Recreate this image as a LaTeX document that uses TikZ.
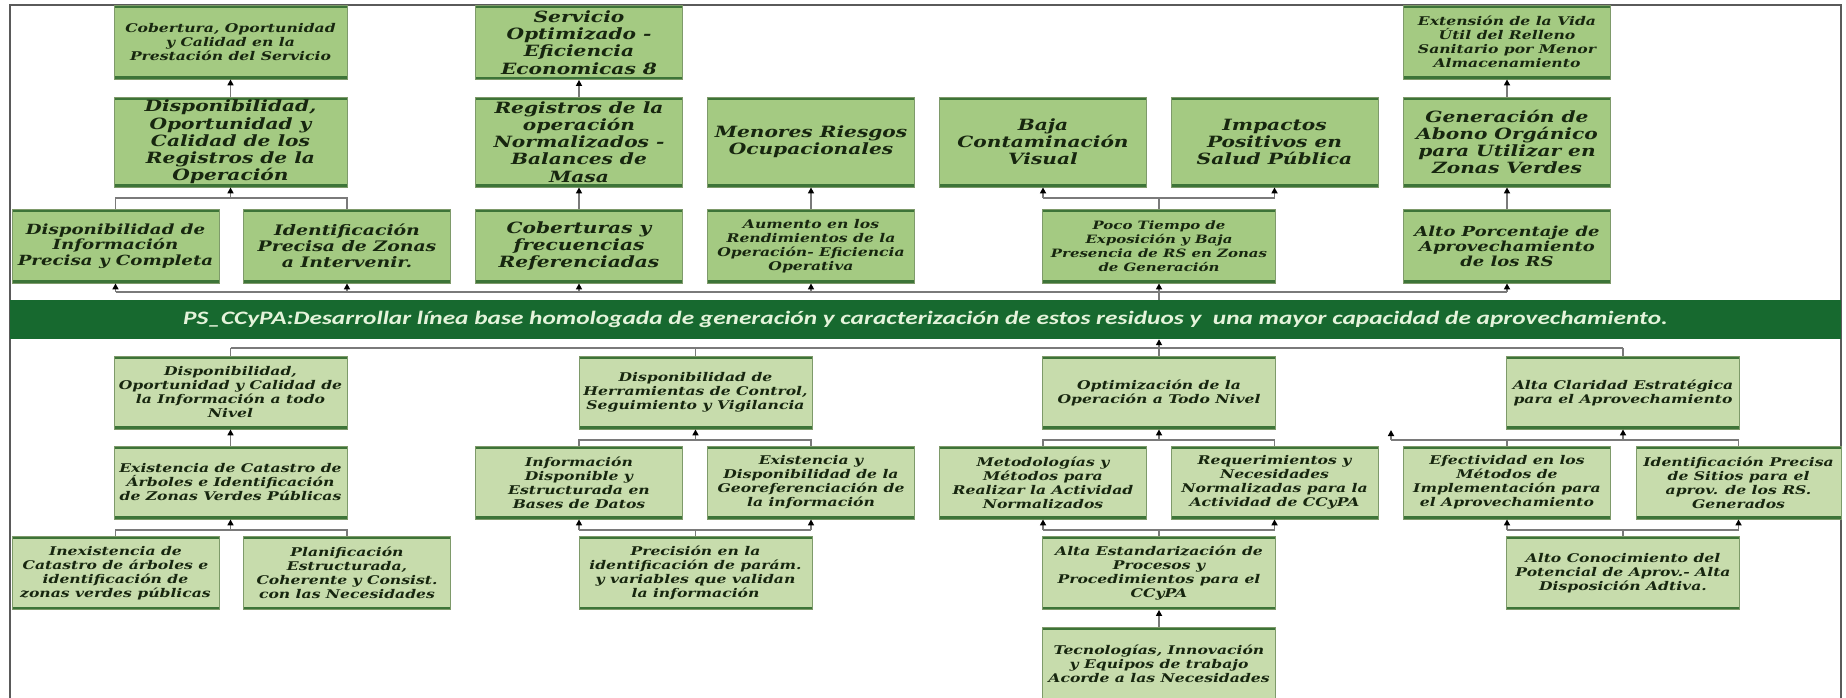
\documentclass[tikz,border=0pt]{standalone}
\usepackage{fontspec}
\usepackage{graphicx}
\usetikzlibrary{arrows.meta}
\newfontfamily\bxf{DejaVu Serif}[FakeStretch=1.3]
\newfontfamily\barf{Carlito}[FakeStretch=1.12]
\definecolor{topfill}{HTML}{A4CA82}
\definecolor{lowfill}{HTML}{C7DCAC}
\definecolor{edgegreen}{HTML}{3D7438}
\definecolor{sidegreen}{HTML}{7E9A6A}
\definecolor{ink}{HTML}{17260F}
\definecolor{bargreen}{HTML}{17692F}
\definecolor{bartext}{HTML}{E4F3DA}
\definecolor{wiregray}{HTML}{7A7A7A}
\definecolor{framegray}{HTML}{5A5A5A}
\tikzset{
 box/.style={draw=sidegreen, line width=0.8pt, text=ink, align=center, inner xsep=2pt, inner ysep=0.5pt,
   path picture={\draw[edgegreen,line width=5pt] (path picture bounding box.north west)--(path picture bounding box.north east);
                 \draw[edgegreen,line width=6pt] (path picture bounding box.south west)--(path picture bounding box.south east);}},
 topbox/.style={box, fill=topfill},
 lowbox/.style={box, fill=lowfill},
 nw/.style={minimum width=207pt}, ww/.style={minimum width=233pt},
 hT1/.style={minimum height=74pt}, hT2/.style={minimum height=90pt}, hL/.style={minimum height=73pt},
 bigtxt/.style={font=\bxf\bfseries\itshape\fontsize{15.5}{17.2}\selectfont},
 smalltxt/.style={font=\bxf\bfseries\itshape\fontsize{12}{14}\selectfont},
 midtxt/.style={font=\bxf\bfseries\itshape\fontsize{13}{15}\selectfont},
 wire/.style={draw=wiregray, line width=1.5pt},
 arr/.style={wire, -{Triangle[length=6pt,width=6pt,black]}},
}
\begin{document}
\begin{tikzpicture}[x=1pt,y=-1pt]
\useasboundingbox (0,0) rectangle (1846,697);
\fill[white] (0,0) rectangle (1846,697);
\draw[framegray, line width=1.5pt] (10,5) rectangle (1841,705);

% ---------- top section ----------
\node[topbox,ww,hT1,smalltxt] (B1) at (230.5,42) {Cobertura, Oportunidad\\ y Calidad en la\\ Prestación del Servicio};
\node[topbox,nw,hT1,bigtxt] (D1) at (579,42.5) {Servicio\\ Optimizado -\\ Eficiencia\\ Economicas 8};
\node[topbox,nw,hT1,smalltxt] (J1) at (1507,42) {Extensión de la Vida\\ Útil del Relleno\\ Sanitario por Menor\\ Almacenamiento};

\node[topbox,ww,hT2,bigtxt] (B2) at (230.5,142) {Disponibilidad,\\ Oportunidad y\\ Calidad de los\\ Registros de la\\ Operación};
\node[topbox,nw,hT2,bigtxt] (D2) at (579,142) {Registros de la\\ operación\\ Normalizados -\\ Balances de\\ Masa};
\node[topbox,nw,hT2,bigtxt] (F2) at (811,142) {Menores Riesgos\\ Ocupacionales};
\node[topbox,nw,hT2,bigtxt] (G2) at (1043,142) {Baja\\ Contaminación\\ Visual};
\node[topbox,nw,hT2,bigtxt] (I2) at (1274.5,142) {Impactos\\ Positivos en\\ Salud Pública};
\node[topbox,nw,hT2,bigtxt] (J2) at (1507,142) {Generación de\\ Abono Orgánico\\ para Utilizar en\\ Zonas Verdes};

\node[topbox,nw,hT1,font=\bxf\bfseries\itshape\fontsize{14}{15.5}\selectfont] (A3) at (115.5,246) {Disponibilidad de\\ Información\\ Precisa y Completa};
\node[topbox,nw,hT1,font=\bxf\bfseries\itshape\fontsize{14.5}{16}\selectfont] (C3) at (347,246) {Identificación\\ Precisa de Zonas\\ a Intervenir.};
\node[topbox,nw,hT1,bigtxt] (D3) at (579,246) {Coberturas y\\ frecuencias\\ Referenciadas};
\node[topbox,nw,hT1,smalltxt] (F3) at (811,246) {Aumento en los\\ Rendimientos de la\\ Operación- Eficiencia\\ Operativa};
\node[topbox,ww,hT1,font=\bxf\bfseries\itshape\fontsize{11.5}{14}\selectfont] (H3) at (1159,246) {Poco Tiempo de\\ Exposición y Baja\\ Presencia de RS en Zonas\\ de Generación};
\node[topbox,nw,hT1,font=\bxf\bfseries\itshape\fontsize{13.8}{15}\selectfont] (J3) at (1507,246) {Alto Porcentaje de\\ Aprovechamiento\\ de los RS};

% ---------- bar ----------
\node[fill=bargreen, minimum width=1831pt, minimum height=39pt, inner sep=0pt, text=bartext,
      font=\barf\bfseries\itshape\fontsize{19}{22}\selectfont] (bar) at (925.5,319.5)
      {\scalebox{1.19}[1]{PS\_CCyPA:Desarrollar línea base homologada de generación y caracterización de estos residuos y \ una mayor capacidad de aprovechamiento.}};

% ---------- lower section ----------
\node[lowbox,ww,hL,smalltxt] (lB1) at (230.5,392.5) {Disponibilidad,\\ Oportunidad y Calidad de\\ la Información a todo\\ Nivel};
\node[lowbox,ww,hL,smalltxt] (lE1) at (695.5,392.5) {Disponibilidad de\\ Herramientas de Control,\\ Seguimiento y Vigilancia};
\node[lowbox,ww,hL,smalltxt] (lH1) at (1159,392.5) {Optimización de la\\ Operación a Todo Nivel};
\node[lowbox,ww,hL,smalltxt] (lK1) at (1623,392.5) {Alta Claridad Estratégica\\ para el Aprovechamiento};

\node[lowbox,ww,hL,smalltxt] (lB2) at (230.5,482.5) {Existencia de Catastro de\\ Árboles e Identificación\\ de Zonas Verdes Públicas};
\node[lowbox,nw,hL,smalltxt] (lD2) at (579,482.5) {Información\\ Disponible y\\ Estructurada en\\ Bases de Datos};
\node[lowbox,nw,hL,smalltxt] (lF2) at (811,482.5) {Existencia y\\ Disponibilidad de la\\ Georeferenciación de\\ la información};
\node[lowbox,nw,hL,smalltxt] (lG2) at (1043,482.5) {Metodologías y\\ Métodos para\\ Realizar la Actividad\\ Normalizados};
\node[lowbox,nw,hL,smalltxt] (lI2) at (1274.5,482.5) {Requerimientos y\\ Necesidades\\ Normalizadas para la\\ Actividad de CCyPA};
\node[lowbox,nw,hL,smalltxt] (lJ2) at (1507,482.5) {Efectividad en los\\ Métodos de\\ Implementación para\\ el Aprovechamiento};
\node[lowbox,minimum width=205pt,hL,smalltxt] (lL2) at (1738.5,482.5) {Identificación Precisa\\ de Sitios para el\\ aprov. de los RS.\\ Generados};

\node[lowbox,nw,hL,smalltxt] (lA3) at (115.5,573) {Inexistencia de\\ Catastro de árboles e\\ identificación de\\ zonas verdes públicas};
\node[lowbox,nw,hL,smalltxt] (lC3) at (347,573) {Planificación\\ Estructurada,\\ Coherente y Consist.\\ con las Necesidades};
\node[lowbox,ww,hL,smalltxt] (lE3) at (695.5,573) {Precisión en la\\ identificación de parám.\\ y variables que validan\\ la información};
\node[lowbox,ww,hL,smalltxt] (lH3) at (1159,573) {Alta Estandarización de\\ Procesos y\\ Procedimientos para el\\ CCyPA};
\node[lowbox,ww,hL,smalltxt] (lK3) at (1623,573) {Alto Conocimiento del\\ Potencial de Aprov.- Alta\\ Disposición Adtiva.};

\node[lowbox,ww,minimum height=74pt,smalltxt] (lH4) at (1159,664) {Tecnologías, Innovación\\ y Equipos de trabajo\\ Acorde a las Necesidades};

% ---------- bus levels ----------
\coordinate (t3) at (0,198);
\coordinate (tb) at (0,292);
\coordinate (bb) at (0,348);
\coordinate (b2) at (0,440);
\coordinate (b3) at (0,530);
\coordinate (stray) at (1391,440);
\coordinate (strayend) at (1391,430);

% ---------- top connectors ----------
\draw[wire] (A3.south |- tb) -- (J3.south |- tb);
\foreach \n in {A3,C3,D3,F3,H3,J3} {\draw[arr] (\n.south |- tb) -- (\n.south);}
\draw[wire] (bar.north -| H3.south) -- (H3.south |- tb);

\draw[wire] (A3.north) -- (A3.north |- t3) -- (C3.north |- t3) -- (C3.north);
\draw[arr] (B2.south |- t3) -- (B2.south);
\draw[arr] (B2.north) -- (B1.south);
\draw[arr] (D3.north) -- (D2.south);
\draw[arr] (D2.north) -- (D1.south);
\draw[arr] (F3.north) -- (F2.south);
\draw[wire] (H3.north) -- (H3.north |- t3);
\draw[wire] (G2.south |- t3) -- (I2.south |- t3);
\draw[arr] (G2.south |- t3) -- (G2.south);
\draw[arr] (I2.south |- t3) -- (I2.south);
\draw[arr] (J3.north) -- (J2.south);
\draw[arr] (J2.north) -- (J1.south);

% ---------- lower connectors ----------
\draw[wire] (lB1.north |- bb) -- (lK1.north |- bb);
\foreach \n in {lB1,lE1,lH1,lK1} {\draw[wire] (\n.north |- bb) -- (\n.north);}
\draw[arr] (lH1.north |- bb) -- (bar.south -| lH1.north);

\draw[arr] (lB2.north) -- (lB1.south);
\draw[wire] (lD2.north) -- (lD2.north |- b2) -- (lF2.north |- b2) -- (lF2.north);
\draw[arr] (lE1.south |- b2) -- (lE1.south);
\draw[wire] (lG2.north) -- (lG2.north |- b2) -- (lI2.north |- b2) -- (lI2.north);
\draw[arr] (lH1.south |- b2) -- (lH1.south);
\draw[wire] (stray) -- (lL2.north |- b2) -- (lL2.north);
\draw[wire] (lJ2.north |- b2) -- (lJ2.north);
\draw[arr] (lK1.south |- b2) -- (lK1.south);
\draw[arr] (stray) -- (strayend);

\draw[wire] (lA3.north) -- (lA3.north |- b3) -- (lC3.north |- b3) -- (lC3.north);
\draw[arr] (lB2.south |- b3) -- (lB2.south);
\draw[wire] (lE3.north) -- (lE3.north |- b3);
\draw[wire] (lD2.south |- b3) -- (lF2.south |- b3);
\draw[arr] (lD2.south |- b3) -- (lD2.south);
\draw[arr] (lF2.south |- b3) -- (lF2.south);
\draw[wire] (lH3.north) -- (lH3.north |- b3);
\draw[wire] (lG2.south |- b3) -- (lI2.south |- b3);
\draw[arr] (lG2.south |- b3) -- (lG2.south);
\draw[arr] (lI2.south |- b3) -- (lI2.south);
\draw[wire] (lK3.north) -- (lK3.north |- b3);
\draw[wire] (lJ2.south |- b3) -- (lL2.south |- b3);
\draw[arr] (lJ2.south |- b3) -- (lJ2.south);
\draw[arr] (lL2.south |- b3) -- (lL2.south);
\draw[arr] (lH4.north) -- (lH3.south);
\end{tikzpicture}
\end{document}
